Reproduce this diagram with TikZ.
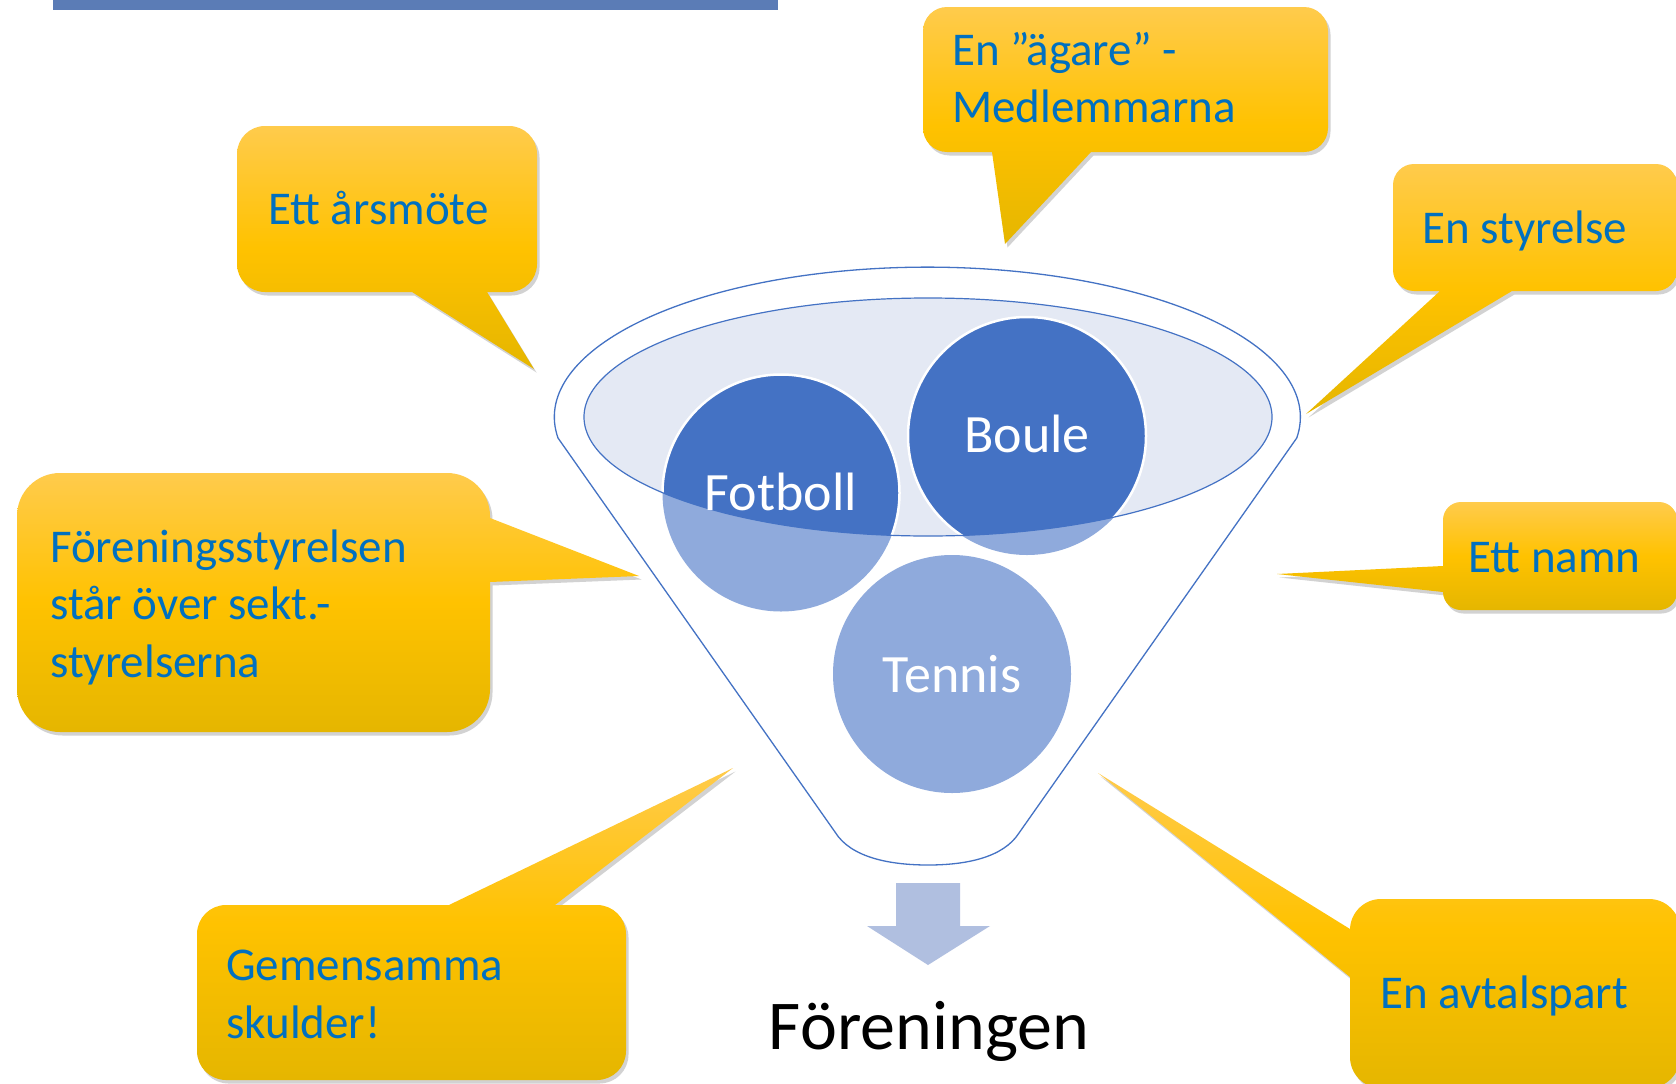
\documentclass[tikz,border=0pt]{standalone}
\usepackage{fontspec}
\setmainfont{Carlito}
\usetikzlibrary{shadows}
\definecolor{ctextblue}{HTML}{0070C0}
\definecolor{goldtop}{HTML}{FFCB4C}
\definecolor{goldmid}{HTML}{FFC200}
\definecolor{goldbot}{HTML}{E5B600}
\definecolor{darkcirc}{HTML}{4472C4}
\definecolor{lightcirc}{HTML}{8FAADC}
\definecolor{ellfill}{HTML}{E4E9F4}
\definecolor{arrowfill}{HTML}{B0BFE0}
\definecolor{titleblue}{HTML}{5B7CB6}
\tikzset{
  callout/.style={top color=goldtop, bottom color=goldbot, middle color=goldmid,
    drop shadow={shadow xshift=2.5pt, shadow yshift=-3.5pt, opacity=0.25, fill=black!70}},
  ctext/.style={font=\fontsize{47}{56}\selectfont, text=ctextblue, inner sep=0pt, anchor=base west},
  circtext/.style={font=\fontsize{54}{64}\selectfont, text=white, inner sep=0pt, anchor=base},
  funnelline/.style={draw=darkcirc, line width=1.3pt},
}
\begin{document}
\begin{tikzpicture}[x=1pt,y=-1pt]
\useasboundingbox (0,0) rectangle (1676,1084);
\fill[white] (0,0) rectangle (1676,1084);

% title underline remnant
\fill[titleblue] (53,0) rectangle (778,9.5);

% funnel outline
\draw[funnelline] (558,438) arc[start angle=172, end angle=368, x radius=373, y radius=150]
  -- (1019,833) .. controls (1003,858) and (965,865) .. (928,865)
  .. controls (891,865) and (851,858) .. (835,832) -- cycle;

% inner ellipse fill
\fill[ellfill] (928,417) ellipse [x radius=344, y radius=119];

% circles (light)
\fill[lightcirc] (781,493) circle [radius=118.5];
\fill[lightcirc] (1027,436) circle [radius=119];
\fill[lightcirc] (952,674) circle [radius=119];

% dark parts inside ellipse
\begin{scope}
  \clip (928,417) ellipse [x radius=344, y radius=119];
  \filldraw[fill=darkcirc, draw=white, line width=2.5pt] (781,493) circle [radius=118.5];
  \filldraw[fill=darkcirc, draw=white, line width=2.5pt] (1027,436) circle [radius=119];
\end{scope}
\draw[funnelline, line width=1.2pt] (928,417) ellipse [x radius=344, y radius=119];

\node[circtext] (fotboll) at (781,510) {Fotboll};
\node[circtext] (boule) at (1027,452) {Boule};
\node[circtext] (tennis) at (952,692) {Tennis};

% arrow
\fill[arrowfill] (896,883) -- (960,883) -- (960,926) -- (990,926) -- (928,965) -- (867,926) -- (896,926) -- cycle;
\node[font=\fontsize{70}{80}\selectfont, text=black, inner sep=0pt, anchor=base] (foreningen) at (929,1049) {Föreningen};

% callouts
\path[callout] (237,126) [rounded corners=28pt] rectangle (537,292) [sharp corners] (412,292) -- (534,369) -- (487,292) -- cycle;
\node[ctext] (arsmote) at (268,224) {Ett årsmöte};

\path[callout] (923,7) [rounded corners=24pt] rectangle (1328,152) [sharp corners] (992,152) -- (1005,244) -- (1091,152) -- cycle;
\node[ctext] (agare1) at (952,65) {En ”ägare” -};
\node[ctext] (agare2) at (952,122) {Medlemmarna};

\path[callout] (1393,164) [rounded corners=21pt] rectangle (1677,291) [sharp corners] (1440,291) -- (1306,414) -- (1512,291) -- cycle;
\node[ctext] (styrelse) at (1422,243) {En styrelse};

\path[callout] (1443,502) [rounded corners=18pt] rectangle (1677,610) [sharp corners] (1443,566) -- (1277,574) -- (1443,592) -- cycle;
\node[ctext] (namn) at (1468,572) {Ett namn};

\path[callout] (17,473) [rounded corners=43pt] rectangle (490,732) [sharp corners] (490,518) -- (639,576) -- (490,582) -- cycle;
\node[ctext] (fs1) at (50,562) {Föreningsstyrelsen};
\node[ctext] (fs2) at (50,619) {står över sekt.-};
\node[ctext] (fs3) at (50,677) {styrelserna};

\path[callout] (197,905) [rounded corners=29pt] rectangle (626,1080) [sharp corners] (449,905) -- (733,768) -- (555,905) -- cycle;
\node[ctext] (gem1) at (226,980) {Gemensamma};
\node[ctext] (gem2) at (226,1038) {skulder!};

\path[callout] (1350,899) [rounded corners=31pt] rectangle (1680,1088) [sharp corners] (1350,929) -- (1098,773) -- (1350,977) -- cycle;
\node[ctext] (avtal) at (1380,1008) {En avtalspart};
\end{tikzpicture}
\end{document}
